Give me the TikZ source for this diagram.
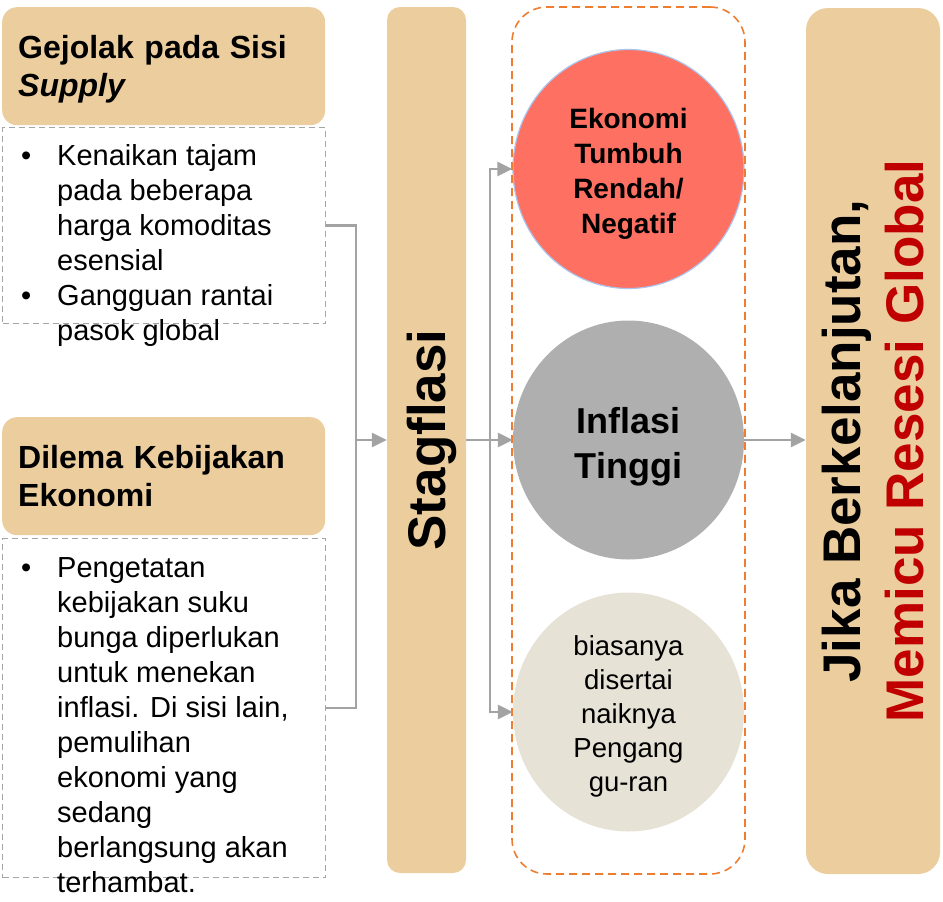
\documentclass[tikz,border=0pt]{standalone}
\usepackage{fontspec}
\setmainfont{Liberation Sans}
\usetikzlibrary{arrows.meta,shapes.geometric}
\definecolor{hdtan}{RGB}{236,205,157}
\definecolor{ekored}{RGB}{254,112,98}
\definecolor{infgray}{RGB}{175,175,175}
\definecolor{biabeige}{RGB}{231,226,214}
\definecolor{grporange}{RGB}{237,125,49}
\definecolor{resred}{RGB}{192,0,0}
\definecolor{lngray}{RGB}{163,163,163}
\definecolor{bxgray}{RGB}{165,165,165}
\begin{document}
\begin{tikzpicture}[x=1pt, y=-1pt,
    hd/.style={fill=hdtan, rounded corners=15pt, minimum height=118pt, text width=291pt,
      inner xsep=16pt, text depth=38pt, align=left,
      font=\bfseries\fontsize{32}{38}\selectfont},
    bx/.style={draw=bxgray, dash pattern=on 6pt off 4pt, line width=1.3pt, minimum width=323pt},
    lst/.style={inner sep=0pt, font=\fontsize{29}{35}\selectfont},
    bar/.style={fill=hdtan, rotate=90, minimum width=866pt, font=\bfseries\fontsize{53}{63}\selectfont},
    bl/.style={ellipse, minimum width=231pt, minimum height=239pt, inner sep=0pt, text depth=0pt, align=center},
    ln/.style={draw=lngray, line width=2.5pt},
    ar/.style={ln, -{Triangle[length=15pt,width=14pt]}}
  ]
  \useasboundingbox (0,0) rectangle (943,902);

  % left column
  \node[hd, anchor=north west] (hdA) at (2,7) {Gejolak pada Sisi\\\textit{Supply}};
  \node[bx, minimum height=196pt, anchor=north west] (bxA) at (2,127) {};
  \node[lst, anchor=north west] (lstA) at (21,140.5) {%
    \begin{tabular}{@{}p{36pt}@{}l@{}}
      \textbullet & Kenaikan tajam\\
                  & pada beberapa\\
                  & harga komoditas\\
                  & esensial\\
      \textbullet & Gangguan rantai\\
                  & pasok global
    \end{tabular}};

  \node[hd, anchor=north west] (hdB) at (2,417) {Dilema Kebijakan\\Ekonomi};
  \node[bx, minimum height=339pt, anchor=north west] (bxB) at (2,538) {};
  \node[lst, anchor=north west] (lstB) at (21,552.5) {%
    \begin{tabular}{@{}p{36pt}@{}l@{}}
      \textbullet & Pengetatan\\
                  & kebijakan suku\\
                  & bunga diperlukan\\
                  & untuk menekan\\
                  & inflasi. Di sisi lain,\\
                  & pemulihan\\
                  & ekonomi yang\\
                  & sedang\\
                  & berlangsung akan\\
                  & terhambat.
    \end{tabular}};

  % middle
  \node[bar, rounded corners=13pt, minimum height=79pt, text depth=0pt] (stag) at (426.5,440) {Stagflasi};

  \node[bl, fill=ekored, draw={rgb,255:red,170;green,196;blue,235}, line width=1.2pt, text height=129pt,
    font=\bfseries\fontsize{28}{35}\selectfont] (eko) at (628.5,169) {Ekonomi\\Tumbuh\\Rendah/\\Negatif};
  \node[bl, fill=infgray, text height=77pt, font=\bfseries\fontsize{36}{45}\selectfont] (inf) at (628.5,440) {Inflasi\\Tinggi};
  \node[bl, fill=biabeige, text height=159pt, font=\fontsize{27.5}{34}\selectfont] (bia) at (628.5,712) {biasanya\\disertai\\naiknya\\Pengang\\gu-ran};
  \node[draw=grporange, dash pattern=on 8pt off 5pt, line width=1.6pt, rounded corners=35pt,
    minimum width=233pt, minimum height=867pt] (grp) at (628.5,440.5) {};

  % right
  \node[bar, rounded corners=22pt, minimum height=134pt, align=center] (res) at (873,441)
    {Jika Berkelanjutan,\\\textcolor{resred}{Memicu Resesi Global}};

  % connectors
  \coordinate (jn) at (356,440);
  \coordinate (sp) at (490,440);
  \draw[ln] (bxA.east) -| (jn);
  \draw[ln] (bxB.east) -| (jn);
  \draw[ar] (jn) -- (stag.north);
  \draw[ln] (stag.south) -- (sp);
  \draw[ar] (sp) -- (inf.west);
  \draw[ar] (sp) |- (eko.west);
  \draw[ar] (sp) |- (bia.west);
  \draw[ar] (inf.east) -- (inf.east -| res.north);
\end{tikzpicture}
\end{document}
